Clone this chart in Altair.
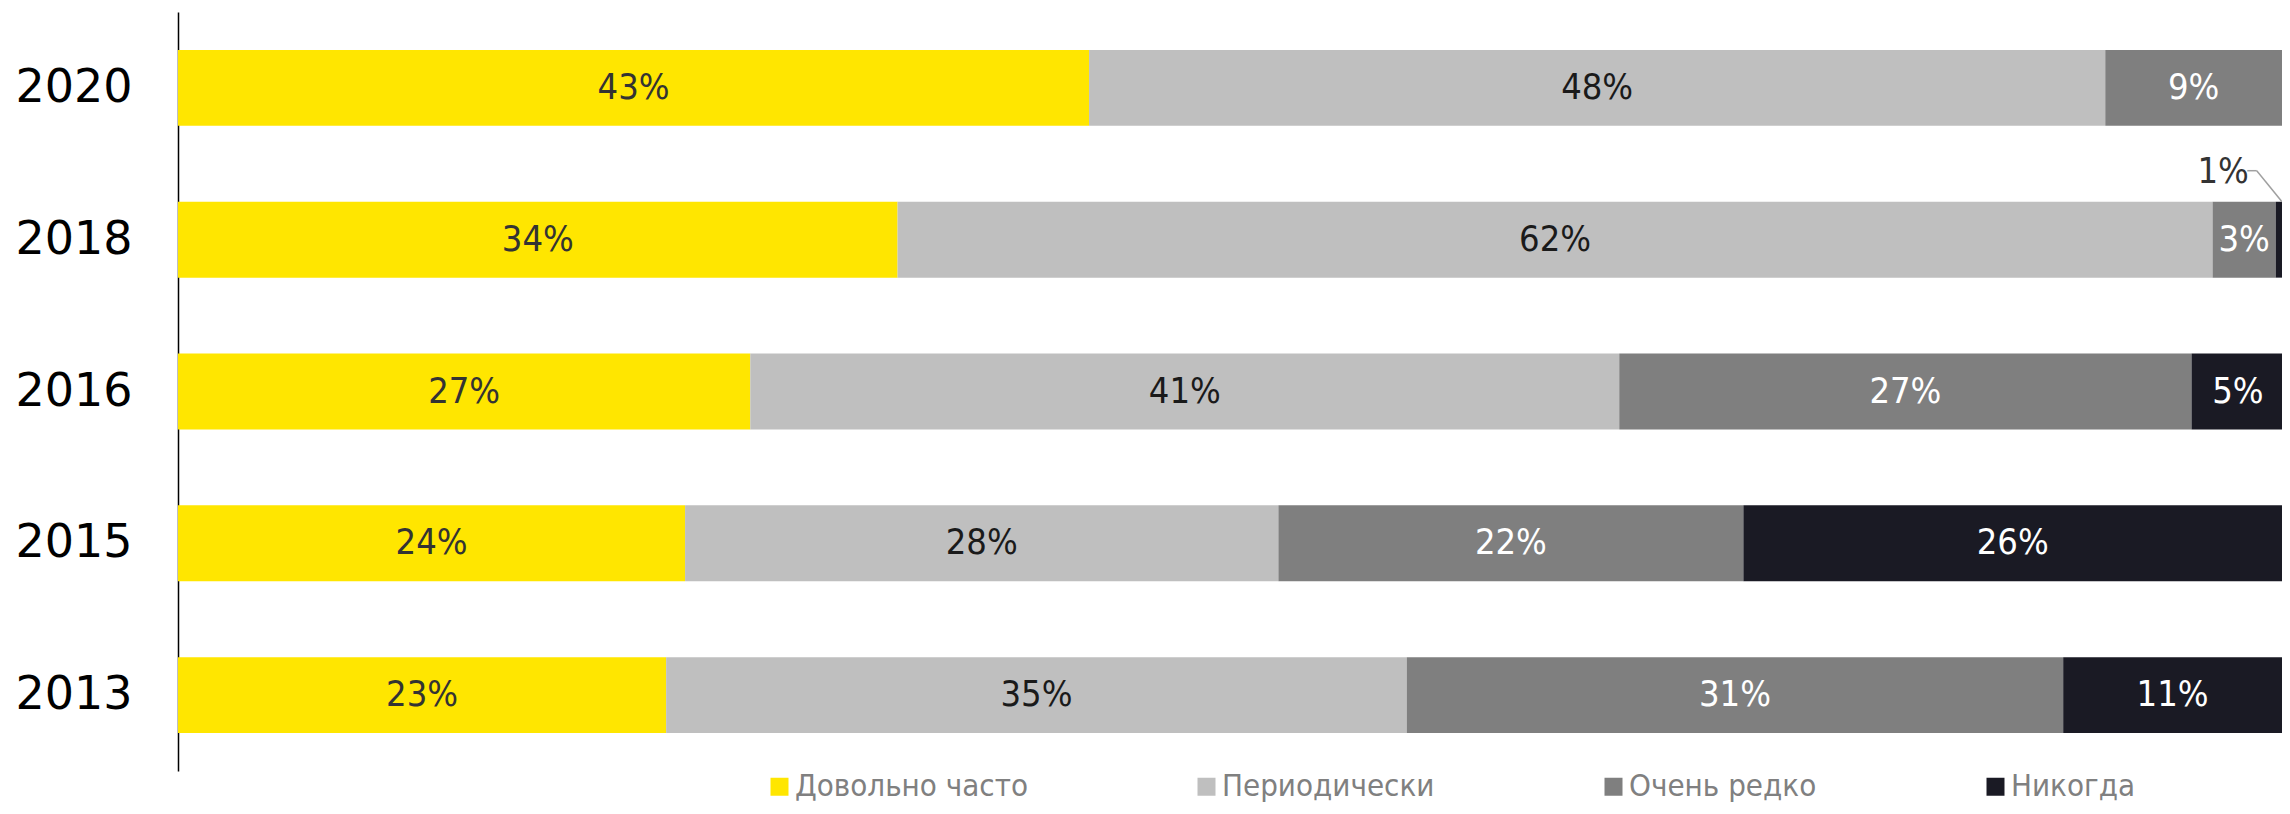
import altair as alt
import pandas as pd

years = ["2020", "2018", "2016", "2015", "2013"]
categories = ["Довольно часто", "Периодически", "Очень редко", "Никогда"]
colors = ["#FFE600", "#BFBFBF", "#7F7F7F", "#1A1A24"]
text_colors = ["#333333", "#1A1A1A", "#FFFFFF", "#FFFFFF"]

often = [43.3, 34.2, 27.2, 24.1, 23.2]
periodic = [48.3, 62.5, 41.3, 28.2, 35.2]
rarely = [8.4, 3.0, 27.2, 22.1, 31.2]
never = [0.0, 0.3, 4.4, 25.6, 10.4]

often_lbl = ["43%", "34%", "27%", "24%", "23%"]
periodic_lbl = ["48%", "62%", "41%", "28%", "35%"]
rarely_lbl = ["9%", "3%", "27%", "22%", "31%"]
never_lbl = ["", "", "5%", "26%", "11%"]

# callout for the 1% segment of 2018
callout_year = ["2018"]
callout_label = ["1%"]
callout_text_x = [97.2]
callout_x = [98.35, 98.8, 100.0]

rows = []
series = [often, periodic, rarely, never]
labels = [often_lbl, periodic_lbl, rarely_lbl, never_lbl]
for i, yr in enumerate(years):
    start = 0.0
    for c, vals, lbls, tc in zip(categories, series, labels, text_colors):
        v = vals[i]
        rows.append(dict(year=yr, cat=c, start=start, end=start + v,
                         mid=start + v / 2, label=lbls[i], tcolor=tc))
        start += v
df = pd.DataFrame(rows)
df_lbl = df[df["label"] != ""]

W, H = 2104, 759
LABEL_FONT = "DejaVu Sans Condensed"

xs = alt.Scale(domain=[0, 100], nice=False, zero=True)
ysc = alt.Scale(domain=years, paddingInner=0.5, paddingOuter=0.25)
y_enc = alt.Y("year:N", sort=years, scale=ysc,
              axis=alt.Axis(title=None, ticks=False, labelFont="DejaVu Sans",
                            labelFontSize=46, labelColor="black", labelPadding=46,
                            domainColor="black", domainWidth=1.5, grid=False,
                            labelAlign="right"))

bars = alt.Chart(df).mark_bar().encode(
    x=alt.X("start:Q", scale=xs, axis=None),
    x2="end:Q",
    y=y_enc,
    color=alt.Color("cat:N", sort=categories,
                    scale=alt.Scale(domain=categories, range=colors),
                    legend=alt.Legend(title=None, orient="none", legendX=586, legendY=759,
                                      direction="horizontal", symbolType="square",
                                      symbolSize=324, symbolStrokeWidth=0,
                                      labelFont=LABEL_FONT, labelFontSize=31,
                                      labelColor="#808080", labelOffset=0,
                                      labelLimit=0, columnPadding=163, padding=0)),
)

texts = alt.Chart(df_lbl).mark_text(font=LABEL_FONT, fontSize=36, baseline="middle").encode(
    x=alt.X("mid:Q", scale=xs, axis=None),
    y=alt.Y("year:N", sort=years, scale=ysc),
    text="label:N",
    color=alt.Color("tcolor:N", scale=None),
)

df_call = pd.DataFrame({"year": callout_year, "label": callout_label, "x": callout_text_x})
call_text = alt.Chart(df_call).mark_text(font=LABEL_FONT, fontSize=36, baseline="middle",
                                         dy=-68, color="#333333").encode(
    x=alt.X("x:Q", scale=xs, axis=None),
    y=alt.Y("year:N", sort=years, scale=ysc),
    text="label:N",
)

df_seg = pd.DataFrame({"year": callout_year * 2,
                       "x": callout_x[:2], "x2": callout_x[1:]})
seg1 = alt.Chart(df_seg.iloc[[0]]).mark_rule(color="#A0A0A0", strokeWidth=1.5, yOffset=-69).encode(
    x=alt.X("x:Q", scale=xs, axis=None), x2="x2:Q",
    y=alt.Y("year:N", sort=years, scale=ysc),
)
seg2 = alt.Chart(df_seg.iloc[[1]]).mark_rule(color="#A0A0A0", strokeWidth=1.5,
                                             yOffset=-69, y2Offset=-38).encode(
    x=alt.X("x:Q", scale=xs, axis=None), x2="x2:Q",
    y=alt.Y("year:N", sort=years, scale=ysc), y2="year:N",
)

chart = alt.layer(bars, texts, call_text, seg1, seg2).resolve_scale(
    color="independent"
).properties(
    width=W, height=H, autosize="none", background="white",
    padding={"left": 170, "top": 4, "right": 0, "bottom": 35},
).configure_view(stroke=None)

chart.save("out.html", embed_options={"renderer": "svg", "actions": False})
